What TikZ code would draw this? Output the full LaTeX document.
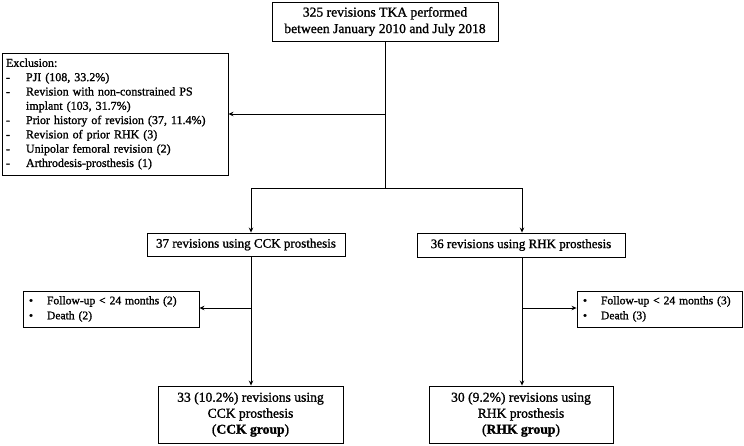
\documentclass[tikz,border=0pt]{standalone}
\usepackage{fontspec}
\setmainfont{Liberation Serif}[UprightFeatures={FakeBold=1.2},BoldFeatures={FakeBold=1.2}]
\usetikzlibrary{arrows.meta}
\begin{document}
\begin{tikzpicture}[x=1pt,y=-1pt,
  box/.style={draw,line width=0.9pt,inner sep=0pt,align=center},
  big/.style={font=\fontsize{13.6}{16.5}\selectfont},
  mid/.style={font=\fontsize{13}{16}\selectfont},
  small/.style={font=\fontsize{12}{14.3}\selectfont},
  conn/.style={line width=0.9pt},
  arr/.style={line width=0.9pt,-{Stealth[length=5pt,width=4.5pt]}}]
\useasboundingbox (0,0) rectangle (744,445);
\fill[white] (0,0) rectangle (744,445);
\node[box,big,minimum width=226pt,minimum height=39pt] (top) at (385,21.5)
  {325 revisions TKA performed\\between January 2010 and July 2018};
\node[box,small,minimum width=226pt,minimum height=122pt,align=left,text width=218pt] (excl) at (115,114)
  {Exclusion:\\
   \makebox[20pt][l]{-}PJI (108, 33.2\%)\\
   \makebox[20pt][l]{-}Revision with non-constrained PS\\
   \hspace*{20pt}implant (103, 31.7\%)\\
   \makebox[20pt][l]{-}Prior history of revision (37, 11.4\%)\\
   \makebox[20pt][l]{-}Revision of prior RHK (3)\\
   \makebox[20pt][l]{-}Unipolar femoral revision (2)\\
   \makebox[20pt][l]{-}Arthrodesis-prosthesis (1)};
\node[box,mid,minimum width=198pt,minimum height=23pt] (cck) at (246,244.5)
  {37 revisions using CCK prosthesis};
\node[box,mid,minimum width=208pt,minimum height=24pt] (rhk) at (521,245)
  {36 revisions using RHK prosthesis};
\node[box,font=\fontsize{11.6}{15}\selectfont,minimum width=176pt,minimum height=36pt,align=left,text width=164pt] (fl) at (111,309)
  {\makebox[18pt][l]{\textbullet}Follow-up < 24 months (2)\\
   \makebox[18pt][l]{\textbullet}Death (2)};
\node[box,font=\fontsize{11.6}{15}\selectfont,minimum width=165pt,minimum height=36pt,align=left,text width=153pt] (fr) at (659.5,309)
  {\makebox[18pt][l]{\textbullet}Follow-up < 24 months (3)\\
   \makebox[18pt][l]{\textbullet}Death (3)};
\node[box,font=\fontsize{13.6}{16}\selectfont,minimum width=185pt,minimum height=57pt] (cckg) at (250.5,414.5)
  {33 (10.2\%) revisions using\\CCK prosthesis\\(\textbf{CCK group})};
\node[box,font=\fontsize{13.6}{16}\selectfont,minimum width=184pt,minimum height=57pt] (rhkg) at (521,414.5)
  {30 (9.2\%) revisions using\\RHK prosthesis\\(\textbf{RHK group})};
\coordinate (split) at (385,188);
\coordinate (ex) at (385,114);
\coordinate (lc) at (251,188);
\coordinate (rc) at (522,188);
\coordinate (lb) at (251,308);
\coordinate (rb) at (522,308);
\draw[conn] (top.south) -- (split);
\draw[arr] (ex) -- (ex -| excl.east);
\draw[conn] (lc) -- (rc);
\draw[arr] (lc) -- (lc |- cck.north);
\draw[arr] (rc) -- (rc |- rhk.north);
\draw[arr] (lc |- cck.south) -- (lc |- cckg.north);
\draw[arr] (rc |- rhk.south) -- (rc |- rhkg.north);
\draw[arr] (lb) -- (lb -| fl.east);
\draw[arr] (rb) -- (rb -| fr.west);
\end{tikzpicture}
\end{document}
